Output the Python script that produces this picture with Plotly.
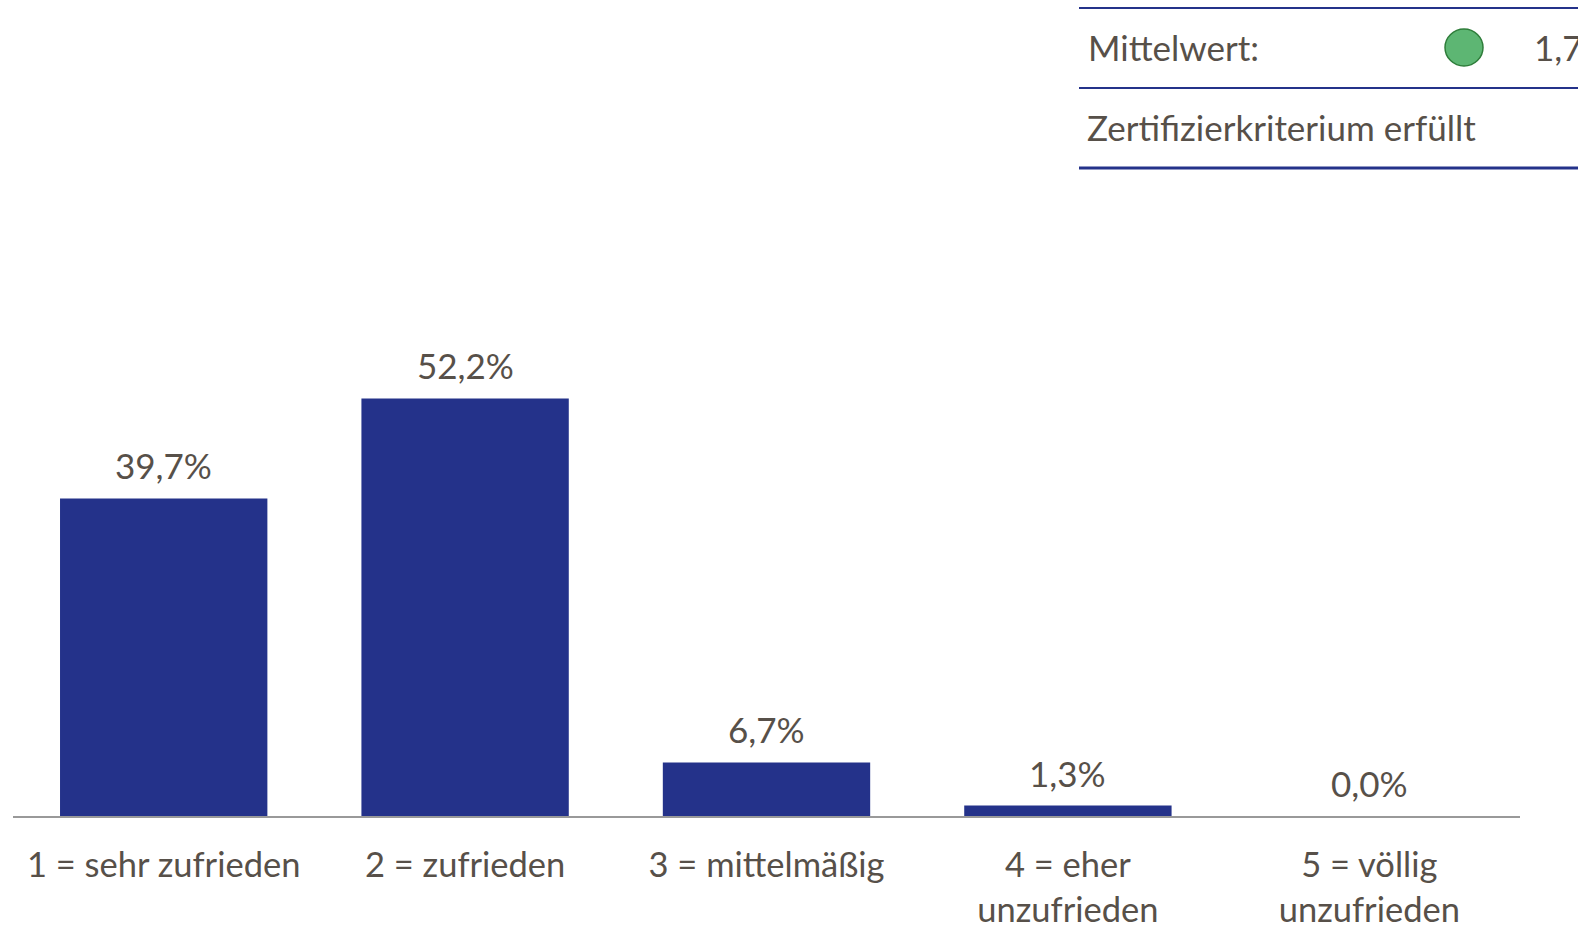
import plotly.graph_objects as go

W, H = 1578, 929
categories = ["1 = sehr zufrieden", "2 = zufrieden", "3 = mittelmäßig",
              "4 = eher<br>unzufrieden", "5 = völlig<br>unzufrieden"]
values = [39.7, 52.2, 6.7, 1.3, 0.0]
value_labels = ["39,7%", "52,2%", "6,7%", "1,3%", "0,0%"]

FONT = "Lato, Carlito, Calibri, sans-serif"
TEXT = "#575049"
BAR = "#24328A"
AXIS_Y = 816.0
FS = 35

fig = go.Figure(go.Bar(x=categories, y=values, width=0.688,
                       marker=dict(color=BAR, line=dict(width=0)), hoverinfo="skip"))

for c, v, t in zip(categories, values, value_labels):
    fig.add_annotation(x=c, y=v, xref="x", yref="y", text=t, showarrow=False,
                       yanchor="middle", yshift=33, font=dict(family=FONT, size=FS, color=TEXT))

def px(x): return x / W
def py(y): return 1 - y / H

# summary table at top right
for y, w in [(8, 2), (88, 2), (168, 3)]:
    fig.add_shape(type="line", xref="paper", yref="paper", x0=px(1079), x1=px(W), y0=py(y), y1=py(y),
                  line=dict(color=BAR, width=w))
fig.add_shape(type="circle", xref="paper", yref="paper", x0=px(1445), x1=px(1483), y0=py(29), y1=py(66),
              fillcolor="#5DB673", line=dict(color="#2E7D3A", width=1.5))
for x, y, t in [(1086, 47, "Mittelwert:"), (1085, 127, "Zertifizierkriterium erfüllt"), (1532, 47, "1,7")]:
    fig.add_annotation(xref="paper", yref="paper", x=px(x), y=py(y), text=t, showarrow=False,
                       xanchor="left", yanchor="middle", font=dict(family=FONT, size=FS, color=TEXT))

fig.update_layout(
    width=W, height=H, autosize=False, showlegend=False,
    paper_bgcolor="white", plot_bgcolor="white",
    margin=dict(l=0, r=0, t=0, b=0),
    xaxis=dict(domain=[13 / W, 1520 / W], type="category", showgrid=False, ticks="",
               showline=True, linecolor="#999999", linewidth=2, ticklen=0, ticklabelstandoff=18,
               tickangle=0, tickfont=dict(family=FONT, size=34.5, color=TEXT), automargin=False),
    yaxis=dict(domain=[1 - AXIS_Y / H, 1], range=[0, AXIS_Y / 8.0], visible=False, automargin=False),
)
fig.write_html("out.html", config={"displayModeBar": False},
               post_script="document.body.style.margin='0';document.body.style.overflow='hidden';")
